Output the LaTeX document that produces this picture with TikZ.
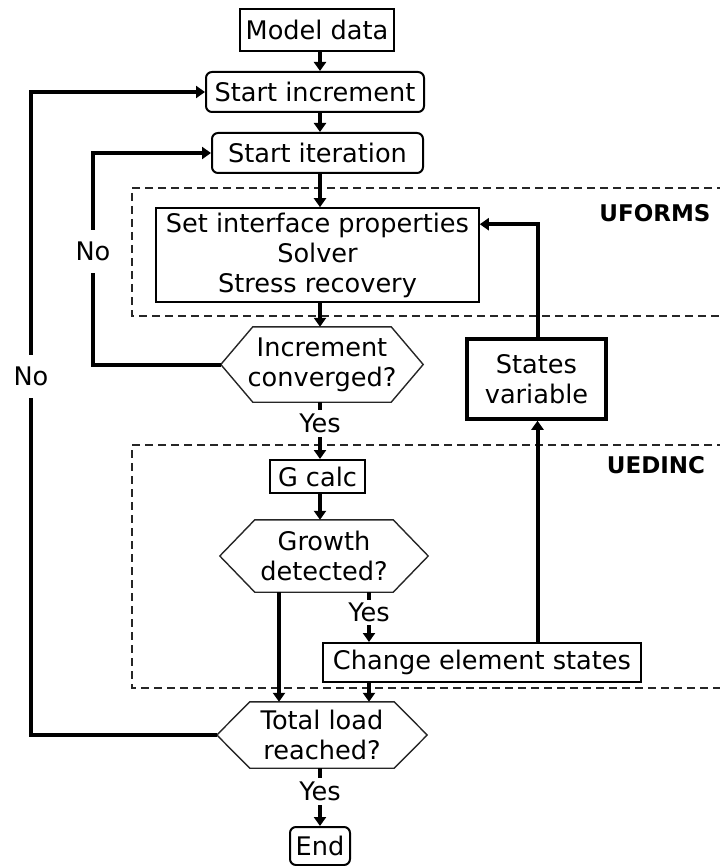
\documentclass[tikz,border=0pt]{standalone}
\usepackage{fontspec}
\setmainfont{DejaVu Sans}
\usetikzlibrary{arrows.meta,calc}
\newcommand\hexdraw[2]{\draw[hexline] ([xshift=#2]#1.north west) -- ([xshift=-#2]#1.north east) -- (#1.east) -- ([xshift=-#2]#1.south east) -- ([xshift=#2]#1.south west) -- (#1.west) -- cycle;}
\begin{document}
\begin{tikzpicture}[x=1pt,y=-1pt,
  every node/.style={font=\fontsize{25.6}{30}\selectfont, inner sep=0pt, align=center},
  boxn/.style={draw, line width=2pt},
  roundn/.style={draw, line width=2pt, rounded corners=6pt},
  hexn/.style={},
  arr/.style={line width=4pt, -{Triangle[length=9pt,width=12pt]}},
  conn/.style={line width=4pt},
  hexline/.style={draw=black!85, line width=1.4pt, line join=miter},
  regionline/.style={draw=black!85, line width=2pt, dash pattern=on 8pt off 5pt},
  lbl/.style={inner sep=0pt},
  tag/.style={font=\fontsize{23}{28}\selectfont\bfseries}]
\useasboundingbox (0,0) rectangle (719,866);
% regions
\draw[regionline] (725,188) -- (132,188) -- (132,316) -- (725,316);
\draw[regionline] (725,445) -- (132,445) -- (132,688) -- (725,688);
\node[tag] (uf) at (655,213) {UFORMS};
\node[tag] (ue) at (656,465) {UEDINC};
% nodes
\node[boxn, minimum width=154pt, minimum height=42pt] (md) at (317,30) {Model data};
\node[roundn, minimum width=218pt, minimum height=40pt] (si) at (315,92) {Start increment};
\node[roundn, minimum width=211pt, minimum height=40pt] (sit) at (317.5,153) {Start iteration};
\node[draw, line width=1.6pt, minimum width=323pt, minimum height=94pt] (sip) at (317.5,255) {Set interface properties\\Solver\\Stress recovery};
\node[hexn, minimum width=202pt, minimum height=75pt] (ic) at (322,364.5) {Increment\\converged?};
\hexdraw{ic}{32}
\node[draw, line width=3.5pt, minimum width=139pt, minimum height=80pt] (sv) at (536.5,379) {States\\variable};
\node[boxn, minimum width=95pt, minimum height=33pt] (gc) at (317.5,476.5) {G calc};
\node[hexn, minimum width=208pt, minimum height=72pt] (gd) at (324,556) {Growth\\detected?};
\hexdraw{gd}{35}
\node[boxn, minimum width=318pt, minimum height=39pt] (ces) at (482,662.5) {Change element states};
\node[hexn, minimum width=210pt, minimum height=66pt] (tl) at (322,735) {Total load\\reached?};
\hexdraw{tl}{33}
\node[roundn, minimum width=60pt, minimum height=38pt] (end) at (320,846) {End};
% labels
\node[lbl, minimum height=27pt] (y1) at (320,423.5) {Yes};
\node[lbl, minimum height=25pt] (y2) at (369,612.5) {Yes};
\node[lbl, minimum height=27pt] (y3) at (320,791.5) {Yes};
\node[lbl, minimum height=43pt] (no1) at (93,251.5) {No};
\node[lbl, minimum height=43pt] (no2) at (31,376.5) {No};
% coordinates
\coordinate (cx) at (320,0);
\coordinate (gl) at (279,0);
\coordinate (gr) at (369,0);
\coordinate (sx) at (537.5,0);
\coordinate (ent) at ($(sip.north east)+(0,17)$);
% connectors
\draw[arr] (md.south -| cx) -- (si.north -| cx);
\draw[arr] (si.south -| cx) -- (sit.north -| cx);
\draw[arr] (sit.south -| cx) -- (sip.north -| cx);
\draw[arr] (sip.south -| cx) -- (ic.north -| cx);
\draw[conn] (ic.south -| cx) -- (y1.north);
\draw[arr] (y1.south) -- (gc.north -| cx);
\draw[arr] (gc.south -| cx) -- (gd.north -| cx);
\draw[arr] (gd.south -| gl) -- (tl.north -| gl);
\draw[conn] (gd.south -| gr) -- (y2.north);
\draw[arr] (y2.south) -- (ces.north -| gr);
\draw[arr] (ces.south -| gr) -- (tl.north -| gr);
\draw[conn] (tl.south -| cx) -- (y3.north);
\draw[arr] (y3.south) -- (end.north);
\draw[arr] (ces.north -| sx) -- (sv.south -| sx);
\draw[arr] (sv.north -| sx) -- (sx |- ent) -- (ent);
\draw[conn] (ic.west) -- (ic.west -| no1) -- (no1.south);
\draw[arr] (no1.north) -- (no1.north |- sit.west) -- (sit.west);
\draw[conn] (tl.west) -- (tl.west -| no2) -- (no2.south);
\draw[arr] (no2.north) -- (no2.north |- si.west) -- (si.west);
\end{tikzpicture}
\end{document}
